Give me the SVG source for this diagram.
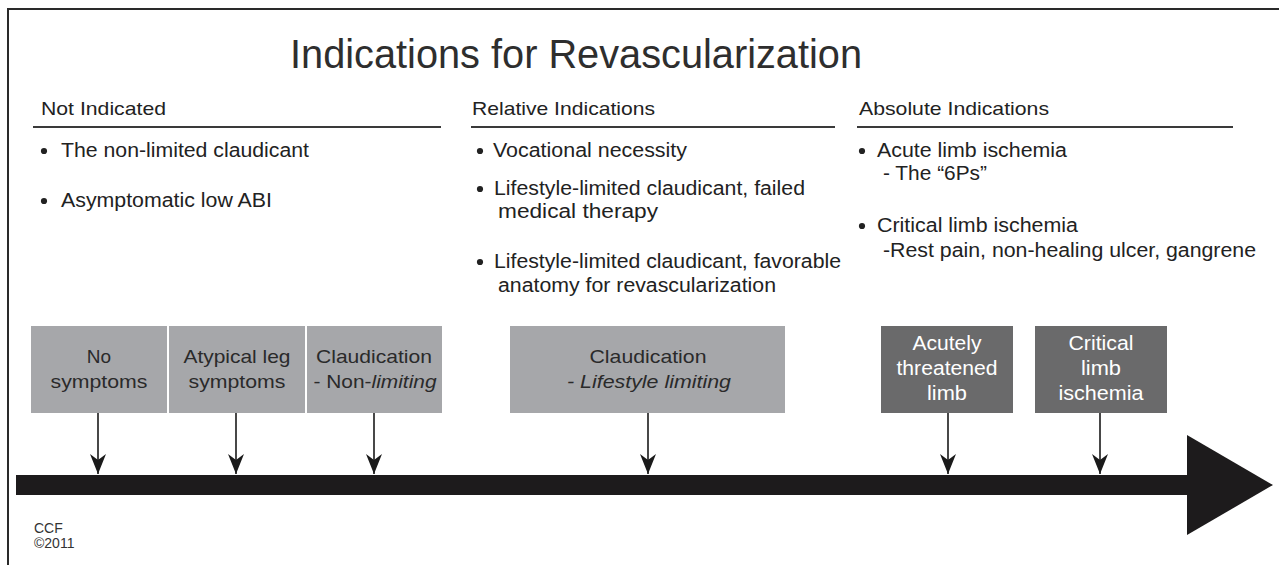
<svg xmlns="http://www.w3.org/2000/svg" width="1279" height="565" viewBox="0 0 1279 565">
  <style>
    text { font-family: "Liberation Sans", Arial, sans-serif; fill: #222222; }
    .title { font-size: 40px; fill: #2e2e2e; }
    .head { font-size: 19px; }
    .item { font-size: 20px; }
    .dot { fill: #222222; }
    .rule { stroke: #3a3a3a; stroke-width: 2; }
    .box-light { fill: #a6a7aa; }
    .box-dark { fill: #6a6a6b; }
    .lbl { font-size: 19px; text-anchor: middle; fill: #2a2a2a; }
    .lbl-w { font-size: 20px; text-anchor: middle; fill: #ffffff; }
    .conn { stroke: #1a1a1a; stroke-width: 1.6; fill: none; }
    .note { font-size: 14px; fill: #333333; }
  </style>
  <defs>
    <marker id="tip" viewBox="0 0 20 16" refX="20" refY="8" markerWidth="20" markerHeight="16" markerUnits="userSpaceOnUse" orient="auto">
      <path d="M0,0 L20,8 L0,16 L6,8 Z" fill="#1a1a1a"/>
    </marker>
  </defs>

  <rect width="1279" height="565" fill="#ffffff"/>
  <!-- frame -->
  <path d="M8,565 V9 H1279" fill="none" stroke="#2a2a2a" stroke-width="2"/>

  <text class="title" x="290" y="68" textLength="572" lengthAdjust="spacingAndGlyphs">Indications for Revascularization</text>

  <!-- column: not indicated -->
  <g id="col-not-indicated">
    <text class="head" x="41" y="115" textLength="125" lengthAdjust="spacingAndGlyphs">Not Indicated</text>
    <line class="rule" x1="33" y1="127" x2="441" y2="127"/>
    <circle class="dot" cx="44" cy="151" r="3.1"/>
    <text class="item" x="61" y="157" textLength="248" lengthAdjust="spacingAndGlyphs">The non-limited claudicant</text>
    <circle class="dot" cx="44" cy="201" r="3.1"/>
    <text class="item" x="61" y="207" textLength="211" lengthAdjust="spacingAndGlyphs">Asymptomatic low ABI</text>
  </g>

  <!-- column: relative indications -->
  <g id="col-relative">
    <text class="head" x="472" y="115" textLength="183" lengthAdjust="spacingAndGlyphs">Relative Indications</text>
    <line class="rule" x1="471" y1="127" x2="835" y2="127"/>
    <circle class="dot" cx="480" cy="151" r="3.1"/>
    <text class="item" x="493" y="157" textLength="194" lengthAdjust="spacingAndGlyphs">Vocational necessity</text>
    <circle class="dot" cx="480" cy="189" r="3.1"/>
    <text class="item" x="494" y="195" textLength="311" lengthAdjust="spacingAndGlyphs">Lifestyle-limited claudicant, failed</text>
    <text class="item" x="498" y="218" textLength="160" lengthAdjust="spacingAndGlyphs">medical therapy</text>
    <circle class="dot" cx="480" cy="262" r="3.1"/>
    <text class="item" x="494" y="268" textLength="347" lengthAdjust="spacingAndGlyphs">Lifestyle-limited claudicant, favorable</text>
    <text class="item" x="498" y="292" textLength="278" lengthAdjust="spacingAndGlyphs">anatomy for revascularization</text>
  </g>

  <!-- column: absolute indications -->
  <g id="col-absolute">
    <text class="head" x="859" y="115" textLength="190" lengthAdjust="spacingAndGlyphs">Absolute Indications</text>
    <line class="rule" x1="857" y1="127" x2="1233" y2="127"/>
    <circle class="dot" cx="862" cy="151" r="3.1"/>
    <text class="item" x="877" y="157" textLength="190" lengthAdjust="spacingAndGlyphs">Acute limb ischemia</text>
    <text class="item" x="883" y="180" textLength="104" lengthAdjust="spacingAndGlyphs">- The “6Ps”</text>
    <circle class="dot" cx="862" cy="226" r="3.1"/>
    <text class="item" x="877" y="232" textLength="201" lengthAdjust="spacingAndGlyphs">Critical limb ischemia</text>
    <text class="item" x="883" y="257" textLength="373" lengthAdjust="spacingAndGlyphs">-Rest pain, non-healing ulcer, gangrene</text>
  </g>

  <!-- symptom stages -->
  <g id="node-no-symptoms">
    <rect class="box-light" x="31" y="326" width="136" height="87"/>
    <text class="lbl" x="99" y="363">No</text>
    <text class="lbl" x="99" y="388" textLength="97" lengthAdjust="spacingAndGlyphs">symptoms</text>
  </g>
  <g id="node-atypical">
    <rect class="box-light" x="169" y="326" width="136" height="87"/>
    <text class="lbl" x="237" y="363" textLength="107" lengthAdjust="spacingAndGlyphs">Atypical leg</text>
    <text class="lbl" x="237" y="388" textLength="97" lengthAdjust="spacingAndGlyphs">symptoms</text>
  </g>
  <g id="node-claud-nonlimiting">
    <rect class="box-light" x="307" y="326" width="135" height="87"/>
    <text class="lbl" x="374" y="363" textLength="116" lengthAdjust="spacingAndGlyphs">Claudication</text>
    <text class="lbl" x="375" y="388" textLength="123" lengthAdjust="spacingAndGlyphs">- Non-<tspan font-style="italic">limiting</tspan></text>
  </g>
  <g id="node-claud-lifestyle">
    <rect class="box-light" x="510" y="326" width="275" height="87"/>
    <text class="lbl" x="648" y="363" textLength="117" lengthAdjust="spacingAndGlyphs">Claudication</text>
    <text class="lbl" x="649" y="388" font-style="italic" textLength="164" lengthAdjust="spacingAndGlyphs">- Lifestyle limiting</text>
  </g>
  <g id="node-acute">
    <rect class="box-dark" x="881" y="326" width="132" height="87"/>
    <text class="lbl-w" x="947" y="350" textLength="69" lengthAdjust="spacingAndGlyphs">Acutely</text>
    <text class="lbl-w" x="947" y="375" textLength="101" lengthAdjust="spacingAndGlyphs">threatened</text>
    <text class="lbl-w" x="947" y="400" textLength="40" lengthAdjust="spacingAndGlyphs">limb</text>
  </g>
  <g id="node-critical">
    <rect class="box-dark" x="1035" y="326" width="132" height="87"/>
    <text class="lbl-w" x="1101" y="350" textLength="65" lengthAdjust="spacingAndGlyphs">Critical</text>
    <text class="lbl-w" x="1101" y="375" textLength="40" lengthAdjust="spacingAndGlyphs">limb</text>
    <text class="lbl-w" x="1101" y="400" textLength="85" lengthAdjust="spacingAndGlyphs">ischemia</text>
  </g>

  <!-- timeline -->
  <g id="timeline">
    <rect x="16" y="475" width="1173" height="20" fill="#1d1b1c"/>
    <polygon points="1187,435 1273,485 1187,535" fill="#1d1b1c"/>
  </g>

  <!-- connectors -->
  <g id="connectors">
    <line class="conn" x1="98" y1="413" x2="98" y2="474" marker-end="url(#tip)"/>
    <line class="conn" x1="236" y1="413" x2="236" y2="474" marker-end="url(#tip)"/>
    <line class="conn" x1="374" y1="413" x2="374" y2="474" marker-end="url(#tip)"/>
    <line class="conn" x1="648" y1="413" x2="648" y2="474" marker-end="url(#tip)"/>
    <line class="conn" x1="948" y1="413" x2="948" y2="474" marker-end="url(#tip)"/>
    <line class="conn" x1="1100" y1="413" x2="1100" y2="474" marker-end="url(#tip)"/>
  </g>

  <text class="note" x="34" y="533">CCF</text>
  <text class="note" x="34" y="548">©2011</text>
</svg>
